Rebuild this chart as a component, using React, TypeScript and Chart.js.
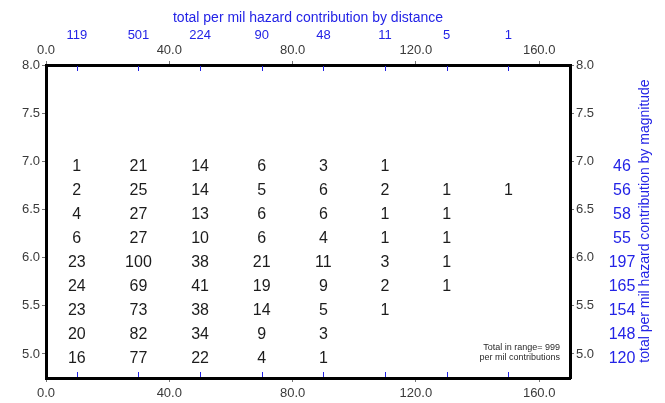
import React, { useEffect, useRef } from "react";
import { Chart, registerables } from "chart.js";

Chart.register(...registerables);

// Distance bin centres (km) and magnitude rows
const distanceBins = [10, 30, 50, 70, 90, 110, 130, 150];
const magnitudeBins = [6.95, 6.7, 6.45, 6.2, 5.95, 5.7, 5.45, 5.2, 4.95];

// Per mil hazard contribution for each magnitude row / distance column
const contributions: (number | null)[][] = [
  [1, 21, 14, 6, 3, 1, null, null],
  [2, 25, 14, 5, 6, 2, 1, 1],
  [4, 27, 13, 6, 6, 1, 1, null],
  [6, 27, 10, 6, 4, 1, 1, null],
  [23, 100, 38, 21, 11, 3, 1, null],
  [24, 69, 41, 19, 9, 2, 1, null],
  [23, 73, 38, 14, 5, 1, null, null],
  [20, 82, 34, 9, 3, null, null, null],
  [16, 77, 22, 4, 1, null, null, null],
];

const distanceTotals = [119, 501, 224, 90, 48, 11, 5, 1];
const magnitudeTotals = [46, 56, 58, 55, 197, 165, 154, 148, 120];
const rangeTotal = 999;

const xTicks = [0, 40, 80, 120, 160];
const yTicks = [5.0, 5.5, 6.0, 6.5, 7.0, 7.5, 8.0];

const FONT = "Arial, 'Liberation Sans', sans-serif";
const BLUE = "#2323e6";
const TICK_TEXT = "#3a3a3a";

const cells = contributions.flatMap((row, r) =>
  row
    .map((v, c) => (v == null ? null : { x: distanceBins[c], y: magnitudeBins[r], v }))
    .filter((p) => p !== null)
) as { x: number; y: number; v: number }[];

const labelPlugin = {
  id: "hazardLabels",
  afterDatasetsDraw(chart: any) {
    const { ctx, chartArea } = chart;
    const xs = chart.scales.x;
    const ys = chart.scales.y;
    ctx.save();

    // cell values
    ctx.fillStyle = "#1c1c1c";
    ctx.font = `16px ${FONT}`;
    ctx.textAlign = "center";
    ctx.textBaseline = "middle";
    const pts = chart.data.datasets[0].data as any[];
    pts.forEach((p) => {
      ctx.fillText(String(p.v), xs.getPixelForValue(p.x), ys.getPixelForValue(p.y));
    });

    // inner blue ticks at bin centres
    ctx.strokeStyle = BLUE;
    ctx.lineWidth = 1;
    distanceBins.forEach((d) => {
      const px = Math.round(xs.getPixelForValue(d)) + 0.5;
      ctx.beginPath();
      ctx.moveTo(px, chartArea.top + 1);
      ctx.lineTo(px, chartArea.top + 6);
      ctx.moveTo(px, chartArea.bottom - 1);
      ctx.lineTo(px, chartArea.bottom - 6);
      ctx.stroke();
    });

    // distance totals and title
    ctx.fillStyle = BLUE;
    ctx.font = `13px ${FONT}`;
    distanceBins.forEach((d, i) => {
      ctx.fillText(String(distanceTotals[i]), xs.getPixelForValue(d), 35);
    });
    ctx.font = `14px ${FONT}`;
    ctx.fillText(
      "total per mil hazard contribution by distance",
      (chartArea.left + chartArea.right) / 2,
      18
    );

    // magnitude totals and rotated title
    ctx.font = `16px ${FONT}`;
    magnitudeBins.forEach((m, i) => {
      ctx.fillText(String(magnitudeTotals[i]), 622, ys.getPixelForValue(m));
    });
    ctx.save();
    ctx.translate(645, 221);
    ctx.rotate(-Math.PI / 2);
    ctx.font = `14px ${FONT}`;
    ctx.fillText("total per mil hazard contribution by magnitude", 0, 0);
    ctx.restore();

    // range total note
    ctx.fillStyle = "#2a2a2a";
    ctx.font = `9px ${FONT}`;
    ctx.textAlign = "right";
    ctx.fillText(`Total in range= ${rangeTotal}`, chartArea.right - 10, 348);
    ctx.fillText("per mil contributions", chartArea.right - 10, 358);

    ctx.restore();
  },
};

const axisCommon = (min: number, max: number, ticks: number[], pad: number) => ({
  type: "linear" as const,
  min,
  max,
  afterBuildTicks: (s: any) => {
    s.ticks = ticks.map((value) => ({ value }));
  },
  ticks: {
    callback: (v: any) => Number(v).toFixed(1),
    color: TICK_TEXT,
    font: { family: FONT, size: 13 },
    padding: pad,
    maxRotation: 0,
    autoSkip: false,
  },
  grid: {
    drawOnChartArea: false,
    drawTicks: true,
    tickLength: 4,
    color: "#777",
  },
  border: { display: true, width: 3, color: "#000" },
});

export default function App() {
  const ref = useRef<HTMLCanvasElement | null>(null);

  useEffect(() => {
    if (!ref.current) return;
    const chart = new Chart(ref.current, {
      type: "scatter",
      data: {
        datasets: [
          {
            data: cells as any,
            pointRadius: 0,
            pointHoverRadius: 0,
            showLine: false,
          },
        ],
      },
      options: {
        responsive: false,
        animation: false,
        devicePixelRatio: 1,
        layout: { padding: 0 },
        plugins: { legend: { display: false }, tooltip: { enabled: false } },
        scales: {
          x: {
            ...axisCommon(0, 170, xTicks, 4),
            position: "bottom",
            afterFit: (s: any) => {
              s.height = 25;
            },
          },
          x2: {
            ...axisCommon(0, 170, xTicks, 3),
            position: "top",
            afterFit: (s: any) => {
              s.height = 65;
            },
          },
          y: {
            ...axisCommon(4.75, 8.0, yTicks, 2),
            position: "left",
            afterFit: (s: any) => {
              s.width = 46;
            },
          },
          y2: {
            ...axisCommon(4.75, 8.0, yTicks, 2),
            position: "right",
            afterFit: (s: any) => {
              s.width = 95;
            },
          },
        } as any,
      },
      plugins: [labelPlugin],
    });
    return () => chart.destroy();
  }, []);

  return (
    <div style={{ position: "fixed", left: 0, top: 0, width: 665, height: 403, background: "#fff" }}>
      <canvas ref={ref} width={665} height={403} />
    </div>
  );
}
